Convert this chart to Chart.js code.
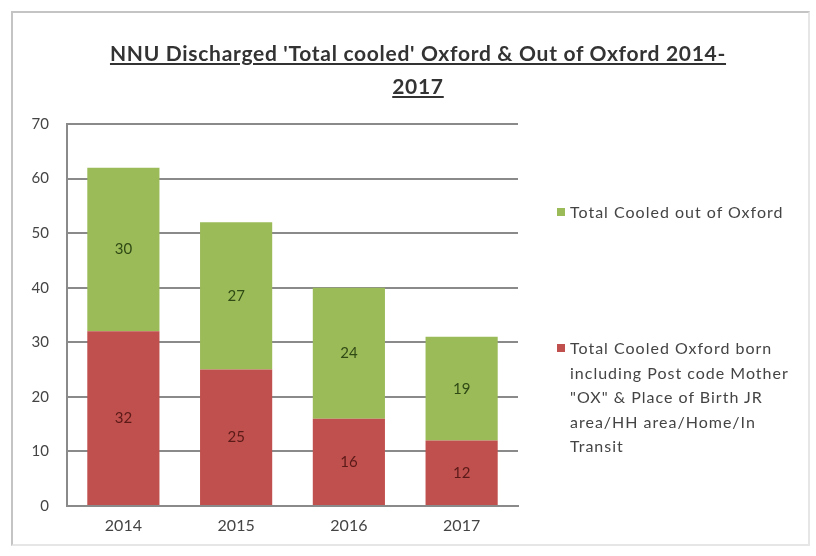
<!DOCTYPE html>
<html lang="en">
<head>
    <title>NNU Discharged Total cooled</title>
    <script src="https://cdn.jsdelivr.net/npm/chart.js"></script>
    <style>
        body { margin: 0; padding: 0; background: #fff; font-family: Lato, "Open Sans", sans-serif; }
        #wrap { position: relative; width: 816px; height: 556px; overflow: hidden; }
        #frame { position: absolute; left: 11px; top: 11px; width: 799px; height: 535px; border: 2px solid #c4c4c4; border-right-color: #e6e6e6; border-bottom-color: #e6e6e6; box-sizing: border-box; }
        #title { position: absolute; left: 40px; width: 756px; top: 36px; text-align: center; font-weight: bold; font-size: 21px; letter-spacing: 0.7px; line-height: 33px; color: #333; text-decoration: underline; }
        #legend { position: absolute; left: 556px; top: 0; width: 258px; font-size: 16px; letter-spacing: 1px; color: #444; line-height: 24.5px; }
        .item { position: absolute; left: 0; width: 258px; padding-left: 14px; box-sizing: border-box; white-space: nowrap; }
        .box { position: absolute; left: 1px; top: 8px; width: 8px; height: 8px; }
        canvas { position: absolute; left: 0; top: 0; }
    </style>
</head>
<body>
<div id="wrap">
    <div id="frame"></div>
    <canvas id="chart" width="816" height="556"></canvas>
    <div id="title">NNU Discharged 'Total cooled' Oxford &amp; Out of Oxford 2014-<br>2017</div>
    <div id="legend"></div>
</div>
<script>
    const years = ["2014", "2015", "2016", "2017"];
    const oxfordBorn = [32, 25, 16, 12];
    const outOfOxford = [30, 27, 24, 19];
    const yTicks = [0, 10, 20, 30, 40, 50, 60, 70];

    // legend labels, one entry per printed line
    const labelOxford = ["Total Cooled Oxford born", "including Post code Mother", "\"OX\" & Place of Birth JR", "area/HH area/Home/In", "Transit"];
    const labelOut = ["Total Cooled out of Oxford"];

    const green = "#9bbb59";
    const red = "#c0504d";

    // value labels in the middle of each segment
    const segLabels = {
        id: "segLabels",
        afterDatasetsDraw(chart) {
            const ctx = chart.ctx;
            ctx.save();
            ctx.font = "15px Lato, sans-serif";
            ctx.textAlign = "center";
            ctx.textBaseline = "middle";
            chart.data.datasets.forEach((ds, i) => {
                const meta = chart.getDatasetMeta(i);
                meta.data.forEach((bar, j) => {
                    const mid = (bar.y + bar.base) / 2;
                    ctx.fillStyle = i === 0 ? "#5a1a18" : "#2f4a14";
                    ctx.fillText(ds.data[j], bar.x, mid);
                });
            });
            ctx.restore();
        }
    };

    const chart = new Chart(document.getElementById("chart"), {
        type: "bar",
        data: {
            labels: years,
            datasets: [
                { label: labelOxford.join(" "), data: oxfordBorn, backgroundColor: red, borderWidth: 0, barPercentage: 0.64, categoryPercentage: 1 },
                { label: labelOut.join(" "), data: outOfOxford, backgroundColor: green, borderWidth: 0, barPercentage: 0.64, categoryPercentage: 1 }
            ]
        },
        options: {
            responsive: false,
            animation: false,
            layout: { padding: { left: 0, right: 298, top: 124, bottom: 12 } },
            plugins: {
                legend: { display: false },
                title: { display: false },
                tooltip: { enabled: false }
            },
            scales: {
                x: {
                    stacked: true,
                    grid: { display: false, drawTicks: false },
                    border: { color: "#8a8a8a", width: 2 },
                    ticks: { color: "#444", font: { family: "Lato", size: 16 }, padding: 10 },
                    afterFit(s) { s.height = 38; }
                },
                y: {
                    stacked: true,
                    min: 0,
                    max: 70,
                    afterBuildTicks(s) { s.ticks = yTicks.map(v => ({ value: v })); },
                    grid: { color: "#8a8a8a", lineWidth: 2, drawTicks: false },
                    border: { color: "#8a8a8a", width: 2 },
                    ticks: { color: "#444", font: { family: "Lato", size: 15 }, padding: 18 },
                    afterFit(s) { s.width = 67; }
                }
            }
        },
        plugins: [segLabels]
    });

    // legend with wrapped text
    const legendLines = [labelOxford, labelOut];
    const legendTops = [336, 200];
    const legendEl = document.getElementById("legend");
    chart.data.datasets.forEach((ds, i) => {
        const item = document.createElement("div");
        item.className = "item";
        item.style.top = legendTops[i] + "px";
        const esc = t => t.replace(/&/g, "&amp;").replace(/"/g, "&quot;");
        item.innerHTML = '<span class="box" style="background:' + ds.backgroundColor + '"></span>' +
            legendLines[i].map(esc).join("<br>");
        legendEl.appendChild(item);
    });
</script>
</body>
</html>
